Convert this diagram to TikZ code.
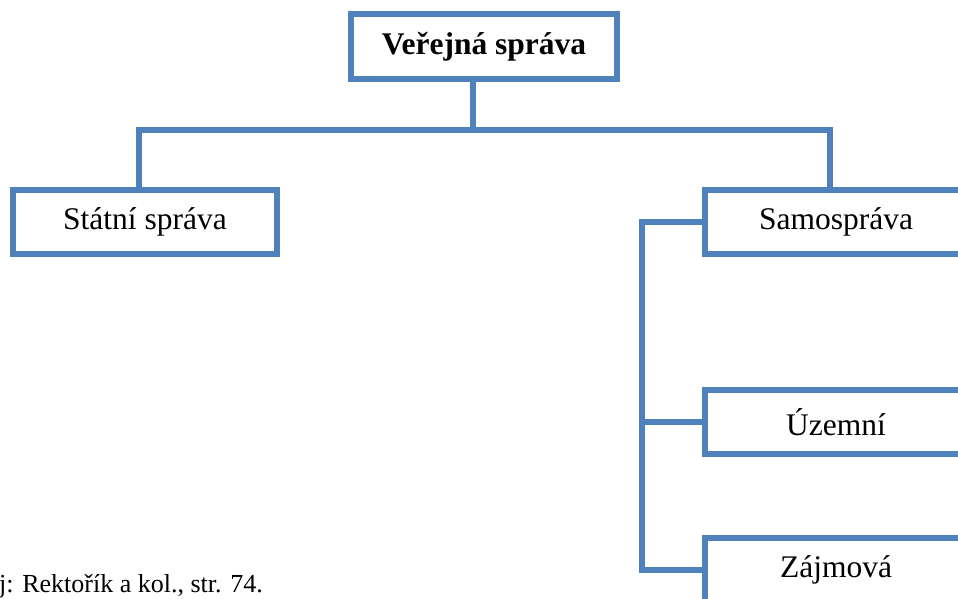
\documentclass[tikz,border=0pt]{standalone}
\usepackage{fontspec}
\setmainfont{Liberation Serif}
\definecolor{orgblue}{HTML}{4F81BD}
\begin{document}
\begin{tikzpicture}[x=1pt,y=-1pt,
  orgbox/.style={draw=orgblue,line width=6.5pt,fill=white,inner sep=0pt,
    minimum height=64pt,font=\fontsize{31.5}{36}\selectfont},
  link/.style={draw=orgblue,line width=6.5pt,line join=miter}]
  \useasboundingbox (0,0) rectangle (958,598);
  \clip (0,0) rectangle (958,598);

  % connector anchor points
  \coordinate (hub) at (473,130);
  \coordinate (barL) at (139,130);
  \coordinate (barR) at (830,130);
  \coordinate (trunk) at (642,222);

  % boxes
  \node[orgbox,minimum width=266pt,minimum height=65pt,font=\fontsize{31.5}{36}\selectfont\bfseries]
    (top) at (484,46.5) {Veřejná správa};
  \node[orgbox,minimum width=264pt] (state) at (145,222) {Státní správa};
  \node[orgbox,minimum width=262pt] (samo) at (836,222) {Samospráva};
  \node[orgbox,minimum width=262pt] (uz) at (836,422) {Územní};
  \node[orgbox,minimum width=262pt] (zaj) at (836,570) {Zájmová};

  % connectors
  \draw[link] (top.south -| hub) -- (hub);
  \draw[link] (state.north -| barL) -- (barL) -- (barR) -- (samo.north -| barR);
  \draw[link] (samo.west) -- (samo.west -| trunk) -- (zaj.west -| trunk) -- (zaj.west);
  \draw[link] (uz.west -| trunk) -- (uz.west);

  % source note
  \node[anchor=base west,inner sep=0pt,font=\fontsize{26}{30}\selectfont]
    (src) at (-1,592) {j: Rektořík a kol., str. 74.};
\end{tikzpicture}
\end{document}
